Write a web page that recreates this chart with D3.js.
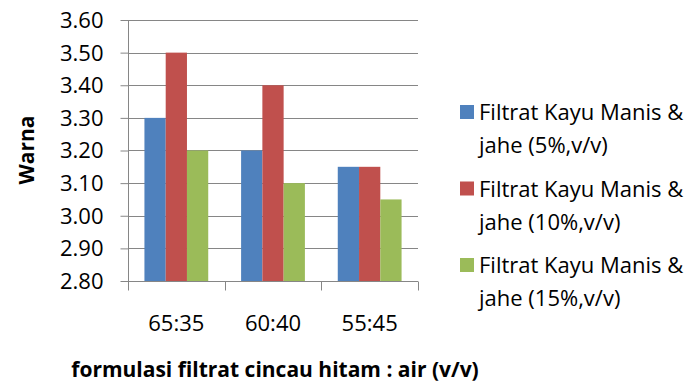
<!DOCTYPE html>
<html>
<head>
<meta charset="utf-8">
<script src="https://cdn.jsdelivr.net/npm/d3@7"></script>
<style>
  html, body { margin: 0; padding: 0; background: #fff; }
  svg text { font-family: "Open Sans", sans-serif; fill: #000; }
</style>
</head>
<body>
<svg id="chart" width="691" height="389"></svg>
<script>
const categories = ["65:35", "60:40", "55:45"];
const seriesNames = [
  ["Filtrat Kayu Manis &", "jahe (5%,v/v)"],
  ["Filtrat Kayu Manis &", "jahe (10%,v/v)"],
  ["Filtrat Kayu Manis &", "jahe (15%,v/v)"]
];
const series5 = [3.30, 3.20, 3.15];
const series10 = [3.50, 3.40, 3.15];
const series15 = [3.20, 3.10, 3.05];
const yTicks = [2.80, 2.90, 3.00, 3.10, 3.20, 3.30, 3.40, 3.50, 3.60];
const colors = ["#4F81BD", "#C0504D", "#9BBB59"];
const yTitle = "Warna";
const xTitle = "formulasi filtrat cincau hitam : air (v/v)";

const seriesValues = [series5, series10, series15];

const svg = d3.select("#chart");
const plot = { left: 128, right: 418, top: 20, bottom: 281 };
const gridColor = "#868686";
const fs = 22;

const y = d3.scaleLinear().domain([2.80, 3.60]).range([plot.bottom, plot.top]);
const x0 = d3.scaleBand().domain(categories).range([plot.left, plot.right])
  .paddingInner(0.34).paddingOuter(0.17);
const x1 = d3.scaleBand().domain(d3.range(seriesValues.length)).range([0, x0.bandwidth()]);

// gridlines
svg.append("g").selectAll("line").data(yTicks).join("line")
  .attr("x1", plot.left).attr("x2", plot.right)
  .attr("y1", d => Math.round(y(d)) + 0.5).attr("y2", d => Math.round(y(d)) + 0.5)
  .attr("stroke", gridColor).attr("stroke-width", 1);

// bars
const groups = svg.append("g").selectAll("g").data(categories).join("g")
  .attr("transform", c => `translate(${x0(c)},0)`);
groups.selectAll("rect").data((c, i) => seriesValues.map((s, k) => ({ k, v: s[i] })))
  .join("rect")
  .attr("x", d => x1(d.k))
  .attr("width", x1.bandwidth())
  .attr("y", d => y(d.v))
  .attr("height", d => plot.bottom - y(d.v))
  .attr("fill", d => colors[d.k]);

// y axis
const yAxis = d3.axisLeft(y).tickValues(yTicks).tickFormat(d3.format(".2f")).tickSize(8).tickPadding(17);
const gy = svg.append("g").attr("transform", `translate(${plot.left + 0.5},0)`).call(yAxis);
gy.select(".domain").attr("stroke", gridColor).attr("d", `M0,${plot.top}V${plot.bottom}`);
gy.selectAll(".tick line").attr("stroke", gridColor);
gy.selectAll(".tick text").attr("font-size", fs).attr("font-family", "Open Sans").attr("fill", "#000").attr("dy", "0.34em");

// x axis
const gx = svg.append("g").attr("transform", `translate(0,${plot.bottom + 0.5})`);
gx.append("line").attr("x1", plot.left).attr("x2", plot.right).attr("stroke", gridColor);
const boundaries = categories.map(c => x0(c) - x0.step() * x0.paddingInner() / 2);
boundaries.push(plot.right);
boundaries[0] = plot.left;
gx.selectAll("line.tk").data(boundaries).join("line").attr("class", "tk")
  .attr("x1", d => Math.round(d) + 0.5).attr("x2", d => Math.round(d) + 0.5)
  .attr("y1", 0).attr("y2", 9).attr("stroke", gridColor);
gx.selectAll("text").data(categories).join("text")
  .attr("x", c => x0(c) + x0.bandwidth() / 2)
  .attr("y", 49)
  .attr("text-anchor", "middle")
  .attr("font-size", fs)
  .text(c => c);

// axis titles
svg.append("text")
  .attr("transform", "translate(34,150) rotate(-90)")
  .attr("text-anchor", "middle")
  .attr("font-size", 21).attr("font-weight", "bold")
  .text(yTitle);
svg.append("text")
  .attr("x", 275).attr("y", 377)
  .attr("text-anchor", "middle")
  .attr("font-size", 21).attr("font-weight", "bold")
  .text(xTitle);

// legend
const leg = svg.append("g").selectAll("g").data(seriesNames).join("g")
  .attr("transform", (d, i) => `translate(460,${105 + i * 76.5})`);
leg.append("rect").attr("width", 14).attr("height", 14).attr("fill", (d, i) => colors[i]);
leg.append("text").attr("x", 19).attr("y", 15).attr("font-size", fs).text(d => d[0]);
leg.append("text").attr("x", 19).attr("y", 48).attr("font-size", fs).text(d => d[1]);
</script>
</body>
</html>
